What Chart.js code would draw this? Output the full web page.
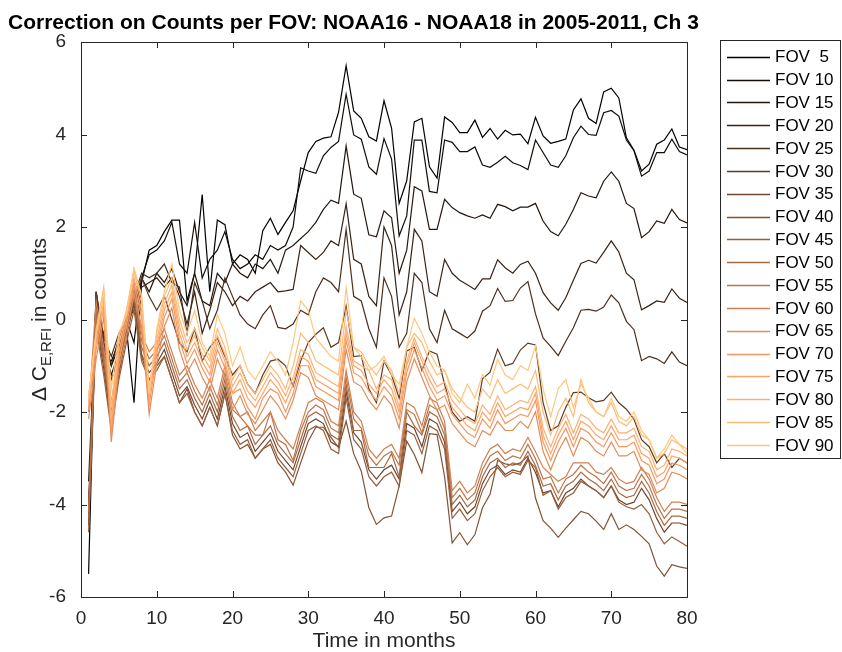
<!DOCTYPE html>
<html><head><meta charset="utf-8">
<script src="https://cdn.jsdelivr.net/npm/chart.js@4.4.0/dist/chart.umd.min.js"></script>
<style>html,body{margin:0;padding:0;background:#fff;}#wrap{width:842px;height:652px;position:relative;}</style>
</head><body><div id="wrap"><canvas id="c" width="842" height="652"></canvas></div>
<script>
const months = [1,2,3,4,5,6,7,8,9,10,11,12,13,14,15,16,17,18,19,20,21,22,23,24,25,26,27,28,29,30,31,32,33,34,35,36,37,38,39,40,41,42,43,44,45,46,47,48,49,50,51,52,53,54,55,56,57,58,59,60,61,62,63,64,65,66,67,68,69,70,71,72,73,74,75,76,77,78,79,80];
const xTicks = [0,10,20,30,40,50,60,70,80];
const yTicks = [-6,-4,-2,0,2,4,6];
const fovLabels = ['FOV  5','FOV 10','FOV 15','FOV 20','FOV 25','FOV 30','FOV 35','FOV 40','FOV 45','FOV 50','FOV 55','FOV 60','FOV 65','FOV 70','FOV 75','FOV 80','FOV 85','FOV 90'];

const fov5 = [-5.5,0.6,-0.8,-0.9,-0.5,-0.2,-1.8,0.8,1.5,1.6, 1.9,2.15,2.15,0.4,1.0,2.7,0.6,2.15,2.05,1.2, 1.4,1.3,1.0,1.92,2.19,1.84,2.1,2.35,3.0,3.61, 3.85,3.92,3.95,4.48,5.49,4.51,4.35,3.95,3.86,4.73, 4.14,2.51,3.0,4.27,4.35,3.30,3.06,4.38,4.26,4.04, 4.04,4.31,3.94,4.13,3.9,4.09,3.99,4.01,3.8,4.37, 3.97,3.81,3.85,3.9,4.53,4.77,4.35,4.24,4.92,5.0, 4.79,3.93,3.66,3.21,3.36,3.79,3.88,4.12,3.73,3.67];
const fov10 = [-4.3,0.5,-0.5,-1.0,-0.6,0.0,-0.5,0.9,1.4,1.5, 1.7,2.1,1.2,1.0,2.1,0.9,1.3,1.5,1.9,1.3, 1.1,1.2,1.4,1.3,1.6,1.5,1.6,2.0,3.28,3.21, 3.16,3.54,3.72,3.85,4.87,3.99,3.9,3.3,3.14,3.91, 3.47,1.81,2.24,3.88,3.88,2.77,2.74,3.88,3.83,3.63, 3.63,3.73,3.34,3.29,3.4,3.53,3.39,3.33,3.24,3.88, 3.61,3.34,3.29,3.54,3.93,4.18,4.0,3.98,4.47,4.52, 4.4,3.88,3.65,3.1,3.21,3.61,3.61,3.9,3.63,3.56];
const fov15 = [-4.0,0.3,-0.6,-1.2,-0.7,0.0,0.2,0.9,0.6,1.0, 0.8,1.1,0.6,0.3,1.0,0.4,0.3,1.0,0.8,1.2, 1.0,0.9,1.2,1.1,1.3,1.0,1.5,1.6,1.75,1.9, 2.1,2.38,2.58,2.51,3.75,2.71,2.62,1.83,1.79,2.35, 2.2,1.0,1.5,2.87,2.78,1.95,1.95,2.6,2.42,2.31, 2.24,2.19,2.26,2.19,2.49,2.44,2.35,2.43,2.43,2.51, 2.13,1.9,1.81,2.06,2.38,2.74,2.67,2.63,2.99,3.19, 2.99,2.51,2.4,1.77,1.9,2.13,2.08,2.38,2.16,2.09];
const fov20 = [-3.5,0.2,-0.3,-1.0,-0.4,0.0,0.3,0.7,0.8,0.9, 0.7,0.9,0.5,-0.1,0.6,-0.3,0.2,0.8,0.6,0.3, 0.5,0.4,0.6,0.7,0.8,0.6,0.62,0.65,1.6,1.45, 1.3,1.45,1.7,1.6,2.5,1.3,1.2,0.5,0.3,2.0, 1.6,0.1,0.6,1.95,1.7,0.6,0.5,1.3,1.0,0.85, 0.75,0.65,0.88,0.88,1.29,1.12,1.0,1.19,1.26,1.0, 0.58,0.36,0.2,0.47,0.85,1.21,1.28,1.22,1.45,1.7, 1.46,1.0,0.86,0.21,0.3,0.4,0.37,0.66,0.46,0.37];
const fov25 = [-4.3,0.6,-0.4,-0.8,-0.3,0.0,0.5,1.0,0.9,1.0, 1.2,0.8,0.7,-0.3,0.8,0.4,-0.2,0.2,0.9,0.5, 0.1,-0.1,-0.2,0.1,0.3,-0.17,-0.2,-0.1,0.2,0.1, 0.6,0.9,0.8,0.6,1.95,0.5,0.4,-0.2,-0.6,0.9, 0.5,-0.6,-0.3,1.0,0.8,-0.2,-0.5,0.2,-0.2,-0.3, -0.4,-0.25,0.18,0.3,0.67,0.39,0.41,0.68,0.82,0.12, -0.4,-0.58,-0.78,-0.47,-0.18,0.2,0.22,0.18,0.27,0.53, 0.36,-0.04,-0.22,-0.89,-0.8,-0.85,-0.95,-0.7,-0.92,-1.0];
const fov30 = [-4.2,0.6,-0.5,-1.3,-0.8,0.0,0.4,0.9,0.5,0.2, 0.5,0.0,-0.5,-0.7,-0.2,-0.9,-0.6,-0.4,-0.8,-1.2, -1.0,-1.4,-1.6,-1.2,-0.9,-0.86,-1.0,-1.44,-0.9,-0.5, -0.32,-0.18,-0.6,-0.5,0.29,-0.8,-0.78,-1.5,-1.8,-0.9, -1.2,-1.7,-0.68,-0.6,-1.1,-0.68,-0.75,-1.4,-2.0,-2.2, -2.1,-2.2,-1.28,-1.14,-0.64,-1.0,-0.95,-0.66,-0.51,-0.55, -1.8,-2.4,-2.3,-1.9,-1.58,-1.57,-1.69,-1.78,-1.75,-1.57, -1.8,-1.94,-2.16,-2.6,-2.75,-3.1,-2.9,-3.2,-3.0,-3.1];
const fov35 = [-4.45,-0.05,-1.05,-2.25,-1.15,-0.35,0.35,-0.75,-1.15,-0.95, -0.65,-1.15,-1.65,-1.45,-1.85,-2.15,-1.75,-2.15,-1.45,-2.25, -2.55,-2.45,-2.85,-2.65,-2.45,-2.85,-3.05,-3.25,-2.75,-2.25, -2.15,-2.25,-2.65,-2.75,-1.55,-2.45,-2.65,-3.25,-3.45,-3.25, -3.15,-3.45,-2.25,-2.35,-2.75,-2.15,-2.25,-2.65,-4.15,-3.95, -4.2,-4.05,-3.55,-3.25,-3.15,-3.35,-3.25,-3.3,-3.0,-3.31, -3.75,-3.7,-4.05,-3.75,-3.65,-3.45,-3.6,-3.7,-3.85,-3.6, -3.9,-4.0,-3.95,-3.65,-3.9,-4.3,-4.6,-4.4,-4.4,-4.45];
const fov40 = [-4.4,0.0,-0.9,-2.3,-1.2,-0.2,0.4,-0.8,-1.3,-1.0, -0.8,-1.3,-1.8,-1.5,-2.0,-2.3,-1.9,-2.3,-1.6,-2.5, -2.8,-2.7,-3.0,-2.8,-2.7,-3.1,-3.3,-3.58,-3.1,-2.63, -2.33,-2.33,-2.55,-2.77,-2.2,-2.9,-3.28,-4.07,-4.43,-4.29, -4.25,-3.6,-2.63,-2.92,-3.31,-2.47,-2.49,-3.4,-4.83,-4.61, -4.87,-4.65,-4.07,-3.78,-3.05,-3.12,-3.15,-3.1,-2.95,-3.86, -4.35,-4.51,-4.71,-4.51,-4.33,-4.15,-4.2,-4.36,-4.54,-4.2, -4.54,-4.44,-4.54,-4.69,-4.85,-5.33,-5.55,-5.3,-5.35,-5.38];
const fov45 = [-4.6,-0.2,-1.2,-2.4,-1.3,-0.5,0.2,-0.9,-1.3,-1.1, -0.8,-1.3,-1.8,-1.6,-2.0,-2.3,-1.9,-2.3,-1.6,-2.4, -2.7,-2.6,-3.0,-2.8,-2.6,-3.0,-3.2,-3.4,-2.9,-2.4, -2.3,-2.4,-2.8,-2.9,-1.7,-2.6,-2.8,-3.4,-3.6,-3.4, -3.3,-3.6,-2.4,-2.5,-2.9,-2.3,-2.4,-2.8,-4.3,-4.1, -4.35,-4.2,-3.7,-3.4,-3.2,-3.4,-3.3,-3.35,-3.05,-3.2, -3.8,-3.7,-4.1,-3.85,-3.75,-3.5,-3.6,-3.7,-3.85,-3.6, -3.95,-4.05,-4.1,-4.0,-4.2,-4.6,-4.85,-4.7,-4.8,-4.9];
const fov50 = [-4.3,0.1,-0.9,-2.1,-1.0,-0.2,0.5,-0.6,-1.0,-0.8, -0.5,-1.0,-1.5,-1.3,-1.7,-2.0,-1.6,-2.0,-1.3,-2.1, -2.4,-2.3,-2.7,-2.5,-2.3,-2.7,-2.9,-3.1,-2.6,-2.1, -2.0,-2.1,-2.5,-2.6,-1.4,-2.4,-2.4,-3.2,-3.2,-3.2, -2.9,-3.4,-2.0,-2.3,-2.5,-2.0,-2.1,-2.5,-4.0,-3.8, -4.05,-3.9,-3.4,-3.1,-3.0,-3.2,-3.1,-3.15,-2.85,-3.16, -3.6,-3.55,-3.9,-3.6,-3.5,-3.3,-3.45,-3.55,-3.7,-3.45, -3.75,-3.85,-3.8,-3.5,-3.75,-4.15,-4.45,-4.25,-4.25,-4.3];
const fov55 = [-4.15,0.25,-0.75,-1.95,-0.85,-0.05,0.65,-0.45,-0.85,-0.65, -0.35,-0.85,-1.35,-1.15,-1.55,-1.85,-1.45,-1.85,-1.15,-1.95, -2.1,-2.3,-2.5,-2.5,-2.0,-2.6,-2.7,-3.05,-2.4,-2.0, -1.85,-1.95,-2.35,-2.45,-1.25,-2.15,-2.35,-2.95,-3.15,-2.95, -2.85,-3.15,-1.95,-2.05,-2.45,-1.85,-1.95,-2.35,-3.85,-3.65, -3.9,-3.75,-3.25,-2.95,-2.85,-3.05,-2.95,-3.0,-2.7,-3.01, -3.45,-3.4,-3.75,-3.45,-3.35,-3.15,-3.3,-3.4,-3.55,-3.3, -3.6,-3.7,-3.65,-3.35,-3.6,-4.0,-4.3,-4.1,-4.1,-4.15];
const fov60 = [-2.0,0.4,-0.6,-1.8,-0.7,0.1,0.8,-0.3,-0.7,-0.5, -0.2,-0.7,-1.2,-1.0,-1.4,-1.7,-1.3,-1.7,-1.0,-1.8, -2.1,-2.0,-2.4,-2.2,-2.0,-2.4,-2.6,-2.8,-2.3,-1.8, -1.7,-1.8,-2.2,-2.3,-1.1,-2.0,-2.2,-2.8,-3.0,-2.8, -2.7,-3.0,-1.8,-1.9,-2.3,-1.7,-1.8,-2.2,-3.7,-3.5, -3.75,-3.6,-3.1,-2.8,-2.7,-2.9,-2.8,-2.85,-2.55,-2.86, -3.2,-3.35,-3.5,-3.4,-3.1,-3.1,-3.1,-3.3,-3.35,-3.2, -3.45,-3.55,-3.5,-3.2,-3.45,-3.85,-4.15,-3.95,-3.95,-4.0];
const fov65 = [-2.15,-0.85,0.05,-2.65,-1.05,-0.35,0.55,-0.15,-2.05,-0.95, -0.15,0.25,-0.65,-1.15,-0.85,-1.25,-1.55,-0.85,-1.25,-1.95, -1.65,-2.05,-2.25,-1.95,-1.65,-1.85,-2.15,-1.75,-1.15,-1.25, -1.65,-1.75,-1.85,-1.95,-0.65,-1.35,-1.45,-1.75,-1.95,-1.65, -1.85,-2.35,-1.35,-0.85,-1.25,-1.65,-1.95,-1.85,-2.25,-2.45, -2.65,-2.75,-2.4,-2.5,-2.2,-2.4,-2.4,-2.2,-2.35,-2.0, -2.85,-3.25,-2.85,-2.55,-2.95,-2.55,-2.65,-2.85,-2.95,-2.65, -2.95,-2.95,-2.85,-3.25,-3.35,-3.75,-3.65,-3.3,-3.35,-3.45];
const fov70 = [-1.95,-0.65,0.25,-2.45,-0.85,-0.15,0.75,0.05,-1.85,-0.75, 0.05,0.45,-0.45,-0.95,-0.65,-1.05,-1.35,-0.65,-1.05,-1.6, -1.5,-1.9,-2.15,-1.7,-1.5,-1.6,-2.0,-1.6,-1.0,-1.0, -1.45,-1.55,-1.65,-1.75,-0.45,-1.15,-1.25,-1.55,-1.75,-1.45, -1.65,-2.15,-1.15,-0.65,-1.05,-1.45,-1.75,-1.65,-2.05,-2.25, -2.45,-2.55,-2.15,-2.35,-1.95,-2.25,-2.15,-2.05,-2.1,-1.75, -2.65,-3.05,-2.65,-2.35,-2.75,-2.35,-2.45,-2.65,-2.75,-2.45, -2.75,-2.75,-2.65,-3.05,-3.15,-3.55,-3.45,-3.1,-3.15,-3.25];
const fov75 = [-1.8,-0.5,0.4,-2.3,-0.7,0.0,0.9,0.2,-1.7,-0.6, 0.2,0.6,-0.3,-0.8,-0.5,-0.9,-1.2,-0.5,-0.9,-1.6, -1.3,-1.7,-1.9,-1.6,-1.3,-1.5,-1.8,-1.4,-0.8,-0.9, -1.3,-1.4,-1.5,-1.6,-0.3,-1.0,-1.1,-1.4,-1.6,-1.3, -1.5,-2.0,-1.0,-0.5,-0.9,-1.3,-1.6,-1.5,-1.9,-2.1, -2.3,-2.4,-2.0,-2.2,-1.8,-2.1,-2.0,-1.9,-1.95,-1.6, -2.5,-2.9,-2.5,-2.2,-2.6,-2.2,-2.3,-2.5,-2.6,-2.3, -2.6,-2.6,-2.5,-2.9,-3.0,-3.4,-3.3,-2.95,-3.0,-3.1];
const fov80 = [-1.65,-0.35,0.55,-2.15,-0.55,0.15,1.05,0.35,-1.55,-0.45, 0.35,0.75,-0.15,-0.65,-0.35,-0.75,-1.05,-0.35,-0.75,-1.45, -1.15,-1.55,-1.75,-1.45,-1.15,-1.35,-1.65,-1.25,-0.65,-0.75, -1.15,-1.25,-1.35,-1.45,-0.15,-0.9,-1.0,-1.1,-1.5,-1.2, -1.3,-1.9,-0.9,-0.4,-0.8,-1.15,-1.45,-1.35,-1.75,-1.95, -2.15,-2.25,-1.85,-2.05,-1.65,-1.95,-1.85,-1.75,-1.8,-1.45, -2.35,-2.75,-2.35,-2.05,-2.45,-2.05,-2.15,-2.35,-2.45,-2.15, -2.45,-2.45,-2.35,-2.75,-2.85,-3.25,-3.15,-2.8,-2.85,-2.95];
const fov85 = [-1.7,-0.2,0.7,-1.9,-0.4,0.2,1.1,0.5,-1.5,-0.3, 0.5,0.9,0.0,-0.5,-0.2,-0.6,-0.9,-0.2,-0.6,-1.3, -1.0,-1.4,-1.6,-1.3,-1.0,-1.2,-1.5,-1.0,-0.3,-0.5, -0.9,-1.0,-1.1,-1.2,0.2,-0.6,-0.7,-1.0,-1.2,-0.9, -1.1,-1.6,-0.6,-0.3,-0.5,-0.9,-1.2,-1.1,-1.5,-1.7, -1.9,-2.0,-1.5,-1.7,-1.3,-1.6,-1.5,-1.4,-1.5,-1.1, -2.0,-2.5,-2.0,-1.7,-2.1,-1.3,-1.8,-2.0,-2.1,-1.8, -2.2,-2.3,-2.1,-2.5,-2.6,-3.0,-2.9,-2.6,-2.7,-2.8];
const fov90 = [-1.7,-0.3,0.6,-1.5,-0.3,0.1,1.1,0.5,-1.6,-0.2, 0.6,1.2,0.2,-0.3,0.2,-0.5,-0.8,0.1,-0.3,-1.0, -0.6,-1.1,-1.3,-1.0,-0.7,-0.9,-1.2,-0.5,0.4,0.2, -0.4,-0.6,-0.8,-0.9,0.69,-0.6,-0.8,-1.1,-1.0,-0.8, -1.2,-1.4,-0.6,0.03,-0.3,-0.7,-1.0,-1.1,-1.6,-1.8, -1.4,-1.7,-1.19,-1.42,-0.86,-1.2,-1.3,-1.0,-1.1,-0.57, -1.5,-2.1,-1.5,-1.3,-1.9,-1.4,-1.7,-2.0,-2.1,-1.7, -2.1,-2.2,-2.0,-2.4,-2.6,-3.0,-2.8,-2.5,-2.7,-2.9];

const seriesList = [fov5,fov10,fov15,fov20,fov25,fov30,fov35,fov40,fov45,fov50,fov55,fov60,fov65,fov70,fov75,fov80,fov85,fov90];
const colors = ['#000000','#130C07','#25170F','#382316','#4B2F1E','#5E3B25','#70462D','#835234','#965E3C','#A96943','#BB754B','#CE8152','#E18D5A','#F49861','#FFA468','#FFB070','#FFBB77','#FFC77F'];

const FONT = '"Liberation Sans", Arial, Helvetica, sans-serif';
const AX = '#262626';

const framePlugin = {
  id: 'frame',
  afterDraw(chart) {
    const ctx = chart.ctx;
    const a = chart.chartArea;
    const xs = chart.scales.x, ys = chart.scales.y;
    ctx.save();
    ctx.strokeStyle = AX;
    ctx.lineWidth = 1;
    ctx.strokeRect(Math.round(a.left) + 0.5, Math.round(a.top) + 0.5, Math.round(a.right - a.left), Math.round(a.bottom - a.top));
    const tl = 6;
    ctx.beginPath();
    xTicks.forEach(v => {
      const px = Math.round(xs.getPixelForValue(v)) + 0.5;
      ctx.moveTo(px, a.bottom); ctx.lineTo(px, a.bottom - tl);
      ctx.moveTo(px, a.top); ctx.lineTo(px, a.top + tl);
    });
    yTicks.forEach(v => {
      const py = Math.round(ys.getPixelForValue(v)) + 0.5;
      ctx.moveTo(a.left, py); ctx.lineTo(a.left + tl, py);
      ctx.moveTo(a.right, py); ctx.lineTo(a.right - tl, py);
    });
    ctx.stroke();

    // title
    ctx.fillStyle = '#000';
    ctx.font = 'bold 21px ' + FONT;
    ctx.textAlign = 'left';
    ctx.textBaseline = 'alphabetic';
    ctx.fillText('Correction on Counts per FOV: NOAA16 - NOAA18 in 2005-2011, Ch 3', 8, 29);

    // x label
    ctx.fillStyle = AX;
    ctx.font = '21px ' + FONT;
    ctx.textAlign = 'center';
    ctx.fillText('Time in months', (a.left + a.right) / 2, 647);

    // y label with subscript
    ctx.save();
    ctx.translate(46, (a.top + a.bottom) / 2);
    ctx.rotate(-Math.PI / 2);
    ctx.textAlign = 'left';
    ctx.font = '21px ' + FONT;
    const p1 = '\u0394 C', p3 = ' in counts', p2 = 'E,RFI';
    const w1 = ctx.measureText(p1).width, w3 = ctx.measureText(p3).width;
    ctx.font = '15px ' + FONT;
    const w2 = ctx.measureText(p2).width;
    let x0 = -(w1 + w2 + w3) / 2;
    ctx.font = '21px ' + FONT;
    ctx.fillText(p1, x0, 0);
    ctx.font = '15px ' + FONT;
    ctx.fillText(p2, x0 + w1, 5);
    ctx.font = '21px ' + FONT;
    ctx.fillText(p3, x0 + w1 + w2, 0);
    ctx.restore();

    // legend
    const lx = 720, ly = 40, lw = 120, lh = 418;
    ctx.fillStyle = '#fff';
    ctx.fillRect(lx, ly, lw, lh);
    ctx.strokeStyle = AX;
    ctx.strokeRect(lx + 0.5, ly + 0.5, lw, lh);
    ctx.font = '17px ' + FONT;
    ctx.textAlign = 'left';
    ctx.textBaseline = 'middle';
    chart.data.datasets.forEach((ds, i) => {
      const y = 56.7 + i * 22.84;
      ctx.strokeStyle = ds.borderColor;
      ctx.lineWidth = 1.3;
      ctx.beginPath();
      ctx.moveTo(727, Math.round(y) + 0.5); ctx.lineTo(770, Math.round(y) + 0.5);
      ctx.stroke();
      ctx.fillStyle = '#000';
      ctx.fillText(ds.label, 775, y + 1);
    });
    ctx.restore();
  }
};

const datasets = seriesList.map((vals, i) => ({
  label: fovLabels[i],
  data: months.map((m, j) => ({ x: m, y: vals[j] })),
  borderColor: colors[i],
  backgroundColor: colors[i],
  borderWidth: 1.2,
  pointRadius: 0,
  fill: false,
  tension: 0,
  order: seriesList.length - i
}));

new Chart(document.getElementById('c').getContext('2d'), {
  type: 'line',
  data: { datasets },
  options: {
    responsive: false,
    animation: false,
    devicePixelRatio: 1,
    layout: { padding: { left: 0, right: 155, top: 42, bottom: 0 } },
    plugins: { legend: { display: false }, tooltip: { enabled: false }, title: { display: false } },
    scales: {
      x: {
        type: 'linear', min: 0, max: 80,
        afterBuildTicks: s => { s.ticks = xTicks.map(v => ({ value: v })); },
        afterFit: s => { s.height = 55; },
        grid: { display: false }, border: { display: false },
        ticks: { color: AX, font: { family: FONT, size: 19 }, padding: 2, maxRotation: 0, autoSkip: false }
      },
      y: {
        type: 'linear', min: -6, max: 6,
        afterBuildTicks: s => { s.ticks = yTicks.map(v => ({ value: v })); },
        afterFit: s => { s.width = 81; },
        grid: { display: false }, border: { display: false },
        ticks: { color: AX, font: { family: FONT, size: 19 }, padding: 7, autoSkip: false }
      }
    }
  },
  plugins: [framePlugin]
});
</script></body></html>
